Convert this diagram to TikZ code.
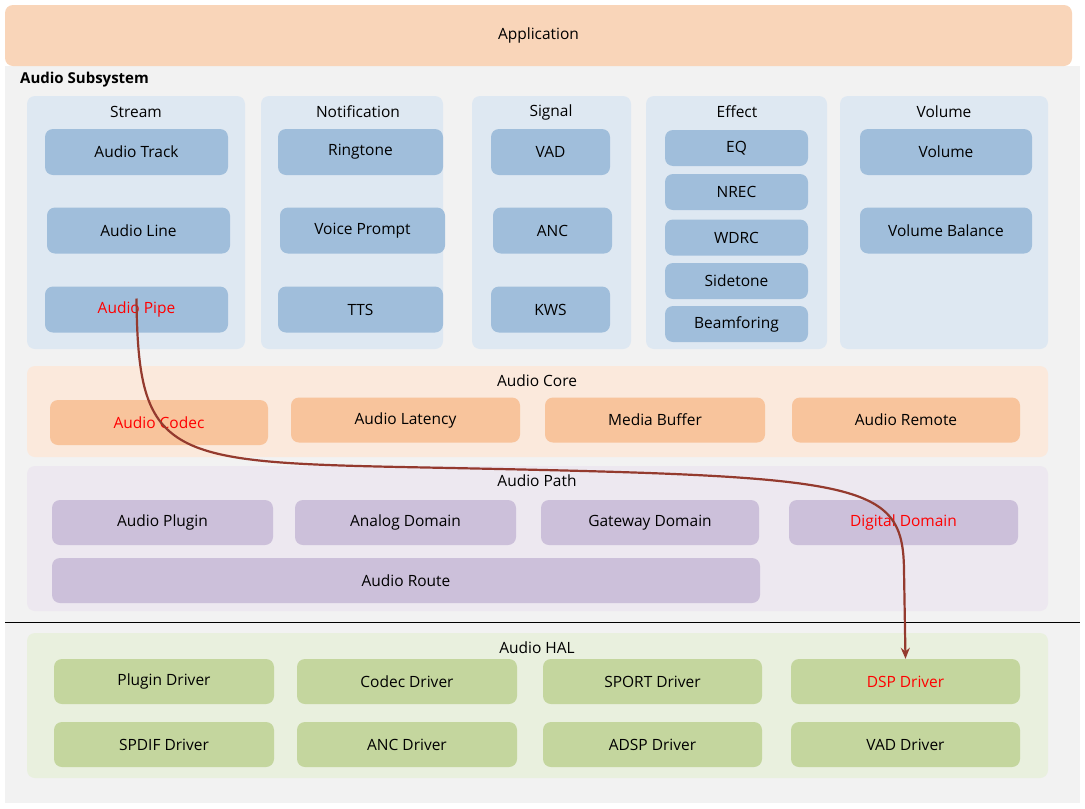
\documentclass[tikz,border=0pt]{standalone}
\usepackage{fontspec}
\setmainfont{Open Sans}
\usetikzlibrary{arrows.meta}
\definecolor{appc}{HTML}{F9D5B9}
\definecolor{bgc}{HTML}{F2F2F2}
\definecolor{bluep}{HTML}{DEE8F2}
\definecolor{blueb}{HTML}{A0BEDB}
\definecolor{orp}{HTML}{FBE9DC}
\definecolor{orb}{HTML}{F8C49C}
\definecolor{pup}{HTML}{EDE8F0}
\definecolor{pub}{HTML}{CCC0DA}
\definecolor{grp}{HTML}{E9F0DE}
\definecolor{grb}{HTML}{C4D69E}
\definecolor{arr}{HTML}{943A2E}
\begin{document}
\begin{tikzpicture}[x=1pt,y=-1pt,
  every node/.style={font=\fontsize{15.5}{18}\selectfont, inner sep=0pt},
  panel/.style={draw=none, rounded corners=8pt},
  box/.style={draw=none, rounded corners=8pt, minimum width=#1},
  bb/.style={box=#1, fill=blueb, minimum height=46},
  eb/.style={box=#1, fill=blueb, minimum height=36},
  ob/.style={box=#1, fill=orb, minimum height=45},
  pb/.style={box=#1, fill=pub, minimum height=45},
  gb/.style={box=#1, fill=grb, minimum height=45},
  red/.style={text=red}]
\useasboundingbox (0,0) rectangle (1085,809);
\fill[white] (0,0) rectangle (1085,809);
\fill[bgc] (5,66) rectangle (1080,803);
\node[box=1067, fill=appc, minimum height=61] (app) at (538.5,35.5) {Application};
\node[anchor=west, font=\bfseries\fontsize{15}{18}\selectfont] (sub) at (20,80) {Audio Subsystem};
% top panels
\fill[bluep, rounded corners=8pt] (27,96) rectangle (245,349);
\fill[bluep, rounded corners=8pt] (261,96) rectangle (443,349);
\fill[bluep, rounded corners=8pt] (472,96) rectangle (631,349);
\fill[bluep, rounded corners=8pt] (646,96) rectangle (827,349);
\fill[bluep, rounded corners=8pt] (840,96) rectangle (1048,349);
\node (lst) at (136,112) {Stream};
\node (lno) at (358,112) {Notification};
\node (lsi) at (551,112) {Signal};
\node (lef) at (737,112) {Effect};
\node (lvo) at (944,112) {Volume};
\node[bb=183] (track) at (136.5,152) {Audio Track};
\node[bb=183] (line) at (138.5,230.5) {Audio Line};
\node[bb=183, red] (pipe) at (136.5,309.5) {Audio Pipe};
\node[bb=165] (ring) at (360.5,152) {Ringtone};
\node[bb=165] (vp) at (362.5,230.5) {Voice Prompt};
\node[bb=165] (tts) at (360.5,309.5) {TTS};
\node[bb=119] (vad) at (550.5,152) {VAD};
\node[bb=119] (anc) at (552.5,230.5) {ANC};
\node[bb=119] (kws) at (550.5,309.5) {KWS};
\node[eb=143] (eq) at (736.5,148) {EQ};
\node[eb=143] (nrec) at (736.5,192) {NREC};
\node[eb=143] (wdrc) at (736.5,237.5) {WDRC};
\node[eb=143] (side) at (736.5,281) {Sidetone};
\node[eb=143] (beam) at (736.5,324) {Beamforing};
\node[bb=172] (vol) at (946,152) {Volume};
\node[bb=172] (volb) at (946,230.5) {Volume Balance};
% core
\fill[orp, rounded corners=8pt] (27,366) rectangle (1048,457);
\node (lcore) at (537,381) {Audio Core};
\node[ob=218, red] (codec) at (159,422.5) {Audio Codec};
\node[ob=229] (lat) at (405.5,420) {Audio Latency};
\node[ob=220] (mb) at (655,420) {Media Buffer};
\node[ob=228] (rem) at (906,420) {Audio Remote};
% path
\fill[pup, rounded corners=8pt] (27,466) rectangle (1048,611);
\node (lpath) at (537,481) {Audio Path};
\node[pb=221] (plug) at (162.5,522.5) {Audio Plugin};
\node[pb=221] (ana) at (405.5,522.5) {Analog Domain};
\node[pb=218] (gw) at (650,522.5) {Gateway Domain};
\node[pb=229, red] (dig) at (903.5,522.5) {Digital Domain};
\node[pb=708] (route) at (406,580.5) {Audio Route};
\draw[black, line width=0.8pt] (5,622) -- (1080,622);
% HAL
\fill[grp, rounded corners=8pt] (27,633) rectangle (1048,778);
\node (lhal) at (537,648) {Audio HAL};
\node[gb=220] (pd) at (164,681.5) {Plugin Driver};
\node[gb=220] (cd) at (407,681.5) {Codec Driver};
\node[gb=219] (sd) at (652.5,681.5) {SPORT Driver};
\node[gb=229, red] (dsp) at (905.5,681.5) {DSP Driver};
\node[gb=220] (spd) at (164,744.5) {SPDIF Driver};
\node[gb=220] (ad) at (407,744.5) {ANC Driver};
\node[gb=219] (adsp) at (652.5,744.5) {ADSP Driver};
\node[gb=229] (vd) at (905.5,744.5) {VAD Driver};
\coordinate (start) at ([yshift=11]pipe.center);
\draw[arr, line width=2.2pt, -{Stealth[length=11pt,width=9pt]}]
  (start) .. controls (138,455) and (165,462) .. (400,467)
  .. controls (860,476) and (903,478) .. (904,570) -- (dsp.north);
\end{tikzpicture}
\end{document}
